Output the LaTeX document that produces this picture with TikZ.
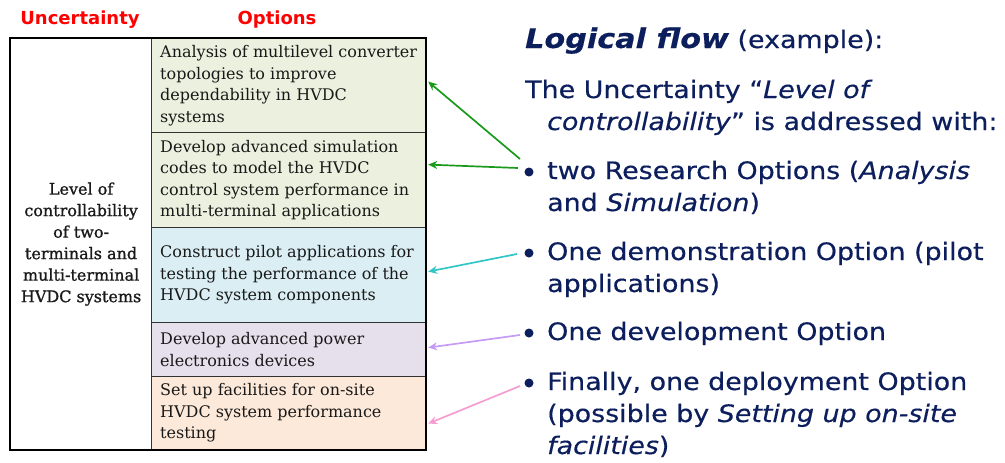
\documentclass[tikz,border=0pt]{standalone}
\usepackage{fontspec}
\setmainfont{DejaVu Serif}
\newfontfamily\flowfont[FakeStretch=1.12,FakeBold=0.4]{DejaVu Sans}
\newfontfamily\headfont{DejaVu Sans}
\newfontfamily\uncfont[FakeBold=1]{DejaVu Serif}
\usetikzlibrary{arrows.meta,calc}

\definecolor{optgreen}{RGB}{235,241,222}
\definecolor{optblue}{RGB}{218,238,243}
\definecolor{optlilac}{RGB}{229,224,236}
\definecolor{optpeach}{RGB}{253,233,217}
\definecolor{navy}{RGB}{12,30,92}
\definecolor{hdred}{RGB}{255,0,0}
\definecolor{argreen}{RGB}{26,154,26}
\definecolor{arcyan}{RGB}{51,198,198}
\definecolor{arlilac}{RGB}{197,155,245}
\definecolor{arpink}{RGB}{245,156,208}
\definecolor{gridline}{RGB}{50,50,50}

% several lines, aligned on the baseline of the first one
\newcommand{\flowlines}[1]{\begin{tabular}[t]{@{}l@{}}#1\end{tabular}}

\begin{document}
\begin{tikzpicture}[x=1pt,y=-1pt,
  cell/.style={draw=gridline,line width=1.2pt,minimum width=274pt,anchor=north west,inner sep=0pt},
  opttext/.style={anchor=west,inner sep=0pt,align=left,font=\fontsize{16}{21.5}\selectfont,text=black!90},
  header/.style={font=\headfont\bfseries\fontsize{18}{20}\selectfont,text=hdred,anchor=base},
  flow/.style={font=\flowfont\fontsize{24}{32}\selectfont,text=navy,anchor=base west,inner sep=0pt},
  dot/.style={circle,fill=navy,minimum size=9pt,inner sep=0pt},
  arr/.style={-{Stealth[length=9pt,width=8pt]},line width=1.7pt}
]
\useasboundingbox (0,0) rectangle (1005,463);

% column headers
\node[header] (hu) at (80,24) {Uncertainty};
\node[header] (ho) at (277,24) {Options};

% table: uncertainty cell and the five option cells
\node[cell,fill=white,minimum width=141pt,minimum height=411pt] (lc) at (10,38) {};
\node[cell,fill=optgreen,minimum height=94pt] (r1) at (151,38) {};
\node[cell,fill=optgreen,minimum height=95pt] (r2) at (151,132) {};
\node[cell,fill=optblue,minimum height=95pt] (r3) at (151,227) {};
\node[cell,fill=optlilac,minimum height=54pt] (r4) at (151,322) {};
\node[cell,fill=optpeach,minimum height=73pt] (r5) at (151,376) {};
\draw[line width=1.6pt] (lc.north west) rectangle (r5.south east);
\draw[line width=2.6pt] (lc.north west) -- (lc.south west);

\node[font=\uncfont\fontsize{16}{21.5}\selectfont,align=center,text=black!90] (ut) at (lc.center)
  {Level of\\controllability\\of two-\\terminals and\\multi-terminal\\HVDC systems};

\node[opttext] (t1) at ($(r1.west)+(9,0)$)
  {Analysis of multilevel converter\\topologies to improve\\dependability in HVDC\\systems};
\node[opttext] (t2) at ($(r2.west)+(9,0)$)
  {Develop advanced simulation\\codes to model the HVDC\\control system performance in\\multi-terminal applications};
\node[opttext] (t3) at ($(r3.west)+(9,0)$)
  {Construct pilot applications for\\testing the performance of the\\HVDC system components};
\node[opttext] (t4) at ($(r4.west)+(9,0)$)
  {Develop advanced power\\electronics devices};
\node[opttext] (t5) at ($(r5.west)+(9,0)$)
  {Set up facilities for on-site\\HVDC system performance\\testing};

% logical flow text
\node[flow] (lf) at (525,48) {{\bfseries\itshape\fontsize{27}{32}\selectfont Logical flow} (example):};
\node[flow] (unc) at (525,98)
  {\flowlines{The Uncertainty “\textit{Level of}\\\hspace{22pt}\textit{controllability}” is addressed with:}};

\node[dot] (b1) at (529,172) {};
\node[flow] (p1) at (547,179) {\flowlines{two Research Options (\textit{Analysis}\\and \textit{Simulation})}};
\node[dot] (b2) at (529,253) {};
\node[flow] (p2) at (547,260) {\flowlines{One demonstration Option (pilot\\applications)}};
\node[dot] (b3) at (529,333) {};
\node[flow] (p3) at (547,340) {One development Option};
\node[dot] (b4) at (529,383) {};
\node[flow] (p4) at (547,390)
  {\flowlines{Finally, one deployment Option\\(possible by \textit{Setting up on-site}\\\textit{facilities})}};

% arrows from the bullets to the option cells
\draw[arr,argreen] ($(b1)+(-9,-13)$) -- ($(r1.east)+(2,-4)$);
\draw[arr,argreen] ($(b1)+(-11,-4)$) -- ($(r2.east)+(2,-15.5)$);
\draw[arr,arcyan] ($(b2)+(-12,1)$) -- ($(r3.east)+(2,-3.5)$);
\draw[arr,arlilac] ($(b3)+(-9,2)$) -- ($(r4.east)+(2,-2)$);
\draw[arr,arpink] ($(b4)+(-9,3)$) -- ($(r5.east)+(2,10.5)$);
\end{tikzpicture}
\end{document}
